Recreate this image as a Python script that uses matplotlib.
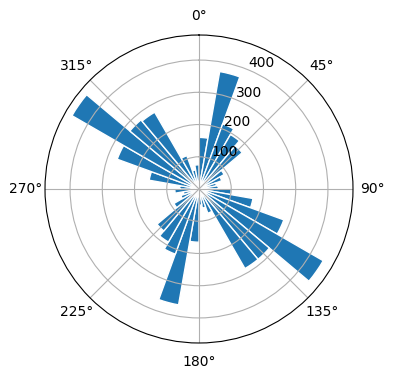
import numpy as np
import matplotlib
matplotlib.use("Agg")
import matplotlib.pyplot as plt

# bin centres (deg, clockwise from north) and counts
directions = np.arange(5, 360, 10)
counts = [160, 370, 215, 195, 175, 90, 75, 55, 60,
          100, 170, 280, 445, 285, 285, 80, 60, 50,
          165, 365, 215, 190, 170, 90, 60, 50, 75,
          60, 157, 270, 455, 280, 275, 110, 60, 75]

fig = plt.figure(figsize=(3.96, 3.8), dpi=100)
ax = fig.add_axes([45 / 396, 37 / 380, 308 / 396, 308 / 380], projection="polar")
ax.set_theta_zero_location("N")
ax.set_theta_direction(-1)

theta = np.deg2rad(directions)
ax.bar(theta, counts, width=np.deg2rad(10), color="#1f77b4",
       edgecolor="white", linewidth=1)
ax.set_rticks([100, 200, 300, 400])
ax.grid(True)

fig.savefig("out.png", dpi=100)
